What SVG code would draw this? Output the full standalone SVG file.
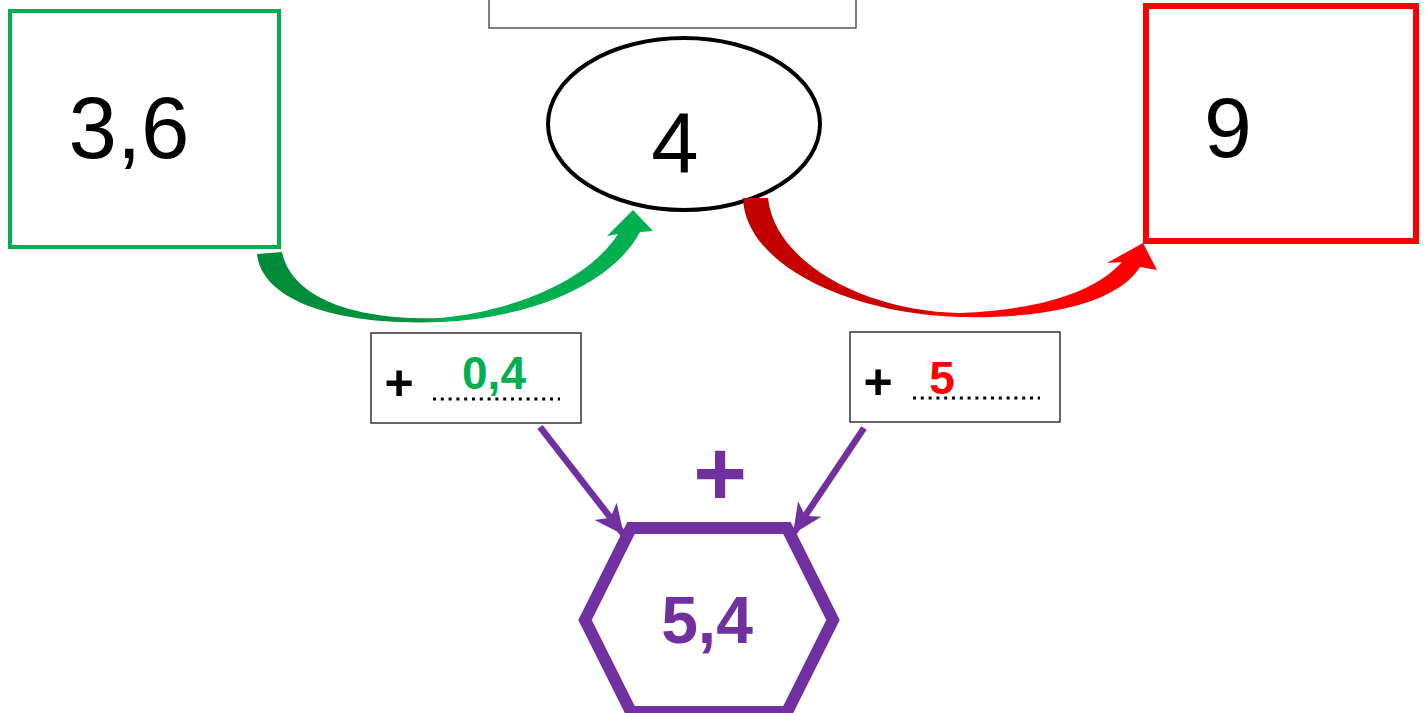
<svg xmlns="http://www.w3.org/2000/svg" width="1426" height="713" viewBox="0 0 1426 713">
<style>
.num{font-family:"Liberation Sans",Arial,sans-serif;fill:#000}
.b{font-weight:bold}
.dots{stroke:#000;stroke-width:3;stroke-dasharray:3 4.8}
</style>
<defs>
<linearGradient id="gg" x1="257" y1="0" x2="653" y2="0" gradientUnits="userSpaceOnUse">
<stop offset="0" stop-color="#008A37"/><stop offset="0.42" stop-color="#009640"/><stop offset="0.47" stop-color="#00B050"/><stop offset="1" stop-color="#00B050"/>
</linearGradient>
<linearGradient id="rg" x1="743" y1="0" x2="1157" y2="0" gradientUnits="userSpaceOnUse">
<stop offset="0" stop-color="#C00000"/><stop offset="0.42" stop-color="#D00000"/><stop offset="0.47" stop-color="#FF0000"/><stop offset="1" stop-color="#FF0000"/>
</linearGradient>
<marker id="pa" markerUnits="userSpaceOnUse" viewBox="-32 -16 34 32" refX="0" refY="0" markerWidth="34" markerHeight="32" orient="auto">
<path d="M0,0 L-30,-14 L-22,0 L-30,14 Z" fill="#7030A0"/>
</marker>
</defs>
<g id="top-box"><rect x="489" y="-10" width="367" height="38" fill="#fff" stroke="#555" stroke-width="1.5"/></g>
<g id="node-start">
<rect x="10" y="11" width="269" height="236" fill="#fff" stroke="#00B050" stroke-width="4"/>
<text class="num" x="129" y="158" font-size="87" text-anchor="middle">3,6</text>
</g>
<g id="node-middle">
<ellipse cx="684" cy="124" rx="136" ry="86" fill="#fff" stroke="#000" stroke-width="4"/>
<text class="num" x="675" y="172" font-size="85" text-anchor="middle">4</text>
</g>
<g id="node-end">
<rect x="1146" y="6" width="270" height="235" fill="#fff" stroke="#FF0000" stroke-width="6"/>
<text class="num" x="1228" y="157" font-size="86" text-anchor="middle">9</text>
</g>
<g id="connectors">
<path id="green-arrow" d="M257,254 C262,302 340,326 440,322 C530,318 612,285 640,232 L653,231 L633,210 L607,236 L618,234 C590,278 520,310 440,318 C360,321 292,300 282,252 Z" fill="url(#gg)"/>
<path id="red-arrow" d="M743,198 C745,265 850,314 960,317 C1050,319 1118,302 1140,267 L1157,270 L1143,243 L1107,263 L1122,262 C1095,292 1040,310 960,313 C870,312 775,265 768,198 Z" fill="url(#rg)"/>
<line x1="540" y1="427" x2="624" y2="535" stroke="#7030A0" stroke-width="6.5" marker-end="url(#pa)"/>
<line x1="864" y1="428" x2="793" y2="534" stroke="#7030A0" stroke-width="6.5" marker-end="url(#pa)"/>
</g>
<g id="label-left">
<rect x="371" y="333" width="210" height="90" fill="#fff" stroke="#333" stroke-width="1.5"/>
<text class="num b" x="399" y="400" font-size="50" text-anchor="middle">+</text>
<line class="dots" x1="433" y1="399" x2="560" y2="399"/>
<text class="num b" x="494" y="389" font-size="46" text-anchor="middle" style="fill:#00B050">0,4</text>
</g>
<g id="label-right">
<rect x="850" y="332" width="210" height="90" fill="#fff" stroke="#333" stroke-width="1.5"/>
<text class="num b" x="878" y="399" font-size="50" text-anchor="middle">+</text>
<line class="dots" x1="913" y1="398" x2="1040" y2="398"/>
<text class="num b" x="942" y="394" font-size="46" text-anchor="middle" style="fill:#FF0000">5</text>
</g>
<g id="plus-sign">
<text class="num b" x="720" y="505" font-size="92" text-anchor="middle" style="fill:#7030A0">+</text>
</g>
<g id="node-result">
<polygon points="631,528 787,528 833,620 787,712 631,712 585,620" fill="#fff" stroke="#7030A0" stroke-width="12"/>
<text class="num b" x="707" y="643" font-size="66" text-anchor="middle" style="fill:#7030A0">5,4</text>
</g>
</svg>
